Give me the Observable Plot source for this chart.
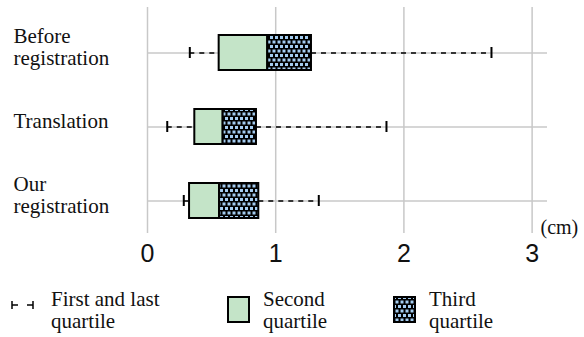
<!DOCTYPE html>
<html>
<head>
<meta charset="utf-8">
<script src="https://cdn.jsdelivr.net/npm/d3@7"></script>
<script src="https://cdn.jsdelivr.net/npm/@observablehq/plot@0.6"></script>
<style>
  html, body { margin: 0; padding: 0; background: #fff; }
  #wrap { position: relative; width: 584px; height: 337px; overflow: hidden; background: #fff; }
  #chart svg { display: block; }
  .lg { position: absolute; font-family: "Liberation Serif", "Times New Roman", Tinos, "DejaVu Serif", serif; font-size: 21px; line-height: 22px; color: #111; white-space: nowrap; }
  .sw { position: absolute; }
</style>
</head>
<body>
<div id="wrap">
  <div id="chart"></div>
  <svg class="sw" style="left:9px;top:298px" width="28" height="14">
    <line x1="3" y1="7" x2="9" y2="7" stroke="#000" stroke-width="1.5"/>
    <line x1="3" y1="3" x2="3" y2="11" stroke="#000" stroke-width="1.5"/>
    <line x1="18" y1="7" x2="24" y2="7" stroke="#000" stroke-width="1.5"/>
    <line x1="24" y1="3" x2="24" y2="11" stroke="#000" stroke-width="1.5"/>
  </svg>
  <div class="lg" style="left:51px;top:288px">First and last<br>quartile</div>
  <svg class="sw" style="left:227px;top:296px" width="24" height="28">
    <rect x="1" y="1" width="21" height="25" fill="#c4e4c8" stroke="#000" stroke-width="2"/>
  </svg>
  <div class="lg" style="left:263px;top:288px">Second<br>quartile</div>
  <svg class="sw" style="left:393px;top:296px" width="24" height="28">
    <defs>
      <pattern id="checkerLegend" width="5" height="9" patternUnits="userSpaceOnUse">
        <rect width="5" height="9" fill="#000"/>
        <rect x="0" y="0" width="3" height="3" fill="#a4ccf0"/>
        <rect x="2.5" y="4.5" width="3" height="3" fill="#a4ccf0"/>
        <rect x="-2.5" y="4.5" width="3" height="3" fill="#a4ccf0"/>
      </pattern>
    </defs>
    <rect x="1" y="1" width="21" height="25" fill="url(#checkerLegend)" stroke="#000" stroke-width="2"/>
  </svg>
  <div class="lg" style="left:429px;top:288px">Third<br>quartile</div>
</div>
<script>
const categories = ["Before registration", "Translation", "Our registration"];
const categoryLabels = ["Before\nregistration", "Translation", "Our\nregistration"];
const minValues = [0.33, 0.154, 0.283];
const q1Values = [0.559, 0.369, 0.328];
const medianValues = [0.938, 0.59, 0.562];
const q3Values = [1.279, 0.85, 0.868];
const maxValues = [2.683, 1.864, 1.336];
const xTicks = [0, 1, 2, 3];
const unitLabel = ["(cm)"];

const rows = categories.map((c, i) => ({
  category: c,
  label: categoryLabels[i],
  min: minValues[i],
  q1: q1Values[i],
  median: medianValues[i],
  q3: q3Values[i],
  max: maxValues[i]
}));

const gridColor = "#c8c8c8";
const serif = '"Liberation Serif", "Times New Roman", Tinos, "DejaVu Serif", serif';

const chart = Plot.plot({
  width: 584,
  height: 270,
  marginLeft: 147,
  marginRight: 37,
  marginTop: 7,
  marginBottom: 37,
  style: { fontFamily: serif, background: "white", color: "#111" },
  x: { domain: [0, 3.12], axis: null },
  y: { domain: categories, paddingInner: 0.53, paddingOuter: 0.29, align: 0.64, axis: null },
  marks: [
    Plot.gridX(xTicks, { stroke: gridColor, strokeOpacity: 1, strokeWidth: 1.5 }),
    Plot.gridY(categories, { stroke: gridColor, strokeOpacity: 1, strokeWidth: 1.5 }),
    Plot.ruleY(rows, { y: "category", x1: "min", x2: "q1", stroke: "#000", strokeWidth: 1.5, strokeDasharray: "5,5" }),
    Plot.ruleY(rows, { y: "category", x1: "q3", x2: "max", stroke: "#000", strokeWidth: 1.5, strokeDasharray: "5,5" }),
    Plot.tickX(rows, { y: "category", x: "min", insetTop: 12, insetBottom: 12, stroke: "#000", strokeWidth: 2 }),
    Plot.tickX(rows, { y: "category", x: "max", insetTop: 12, insetBottom: 12, stroke: "#000", strokeWidth: 2 }),
    Plot.barX(rows, { y: "category", x1: "q1", x2: "median", fill: "#c4e4c8", stroke: "#000", strokeWidth: 2 }),
    Plot.barX(rows, { y: "category", x1: "median", x2: "q3", fill: "url(#checker)", stroke: "#000", strokeWidth: 2 }),
    Plot.axisX(xTicks, { tickSize: 0, tickPadding: 11, fontSize: 25, fontFamily: "Liberation Sans", tickFormat: "d", label: null }),
    Plot.text(rows, { y: "category", text: "label", frameAnchor: "left", textAnchor: "start", dx: -134, dy: -6, fontSize: 21, lineHeight: 1.05, fill: "#111" }),
    Plot.text(unitLabel, { text: d => d, frameAnchor: "bottom-right", textAnchor: "start", lineAnchor: "middle", dx: -7, dy: -6, fontSize: 20, fill: "#111" })
  ]
});

const svg = d3.select(chart);
const defs = svg.insert("defs", ":first-child");
const pat = defs.append("pattern").attr("id", "checker").attr("width", 5).attr("height", 9).attr("patternUnits", "userSpaceOnUse");
pat.append("rect").attr("width", 5).attr("height", 9).attr("fill", "#000");
pat.append("rect").attr("x", 0).attr("y", 0).attr("width", 3).attr("height", 3).attr("fill", "#a4ccf0");
pat.append("rect").attr("x", 2.5).attr("y", 4.5).attr("width", 3).attr("height", 3).attr("fill", "#a4ccf0");
pat.append("rect").attr("x", -2.5).attr("y", 4.5).attr("width", 3).attr("height", 3).attr("fill", "#a4ccf0");

document.getElementById("chart").appendChild(chart);
</script>
</body>
</html>
